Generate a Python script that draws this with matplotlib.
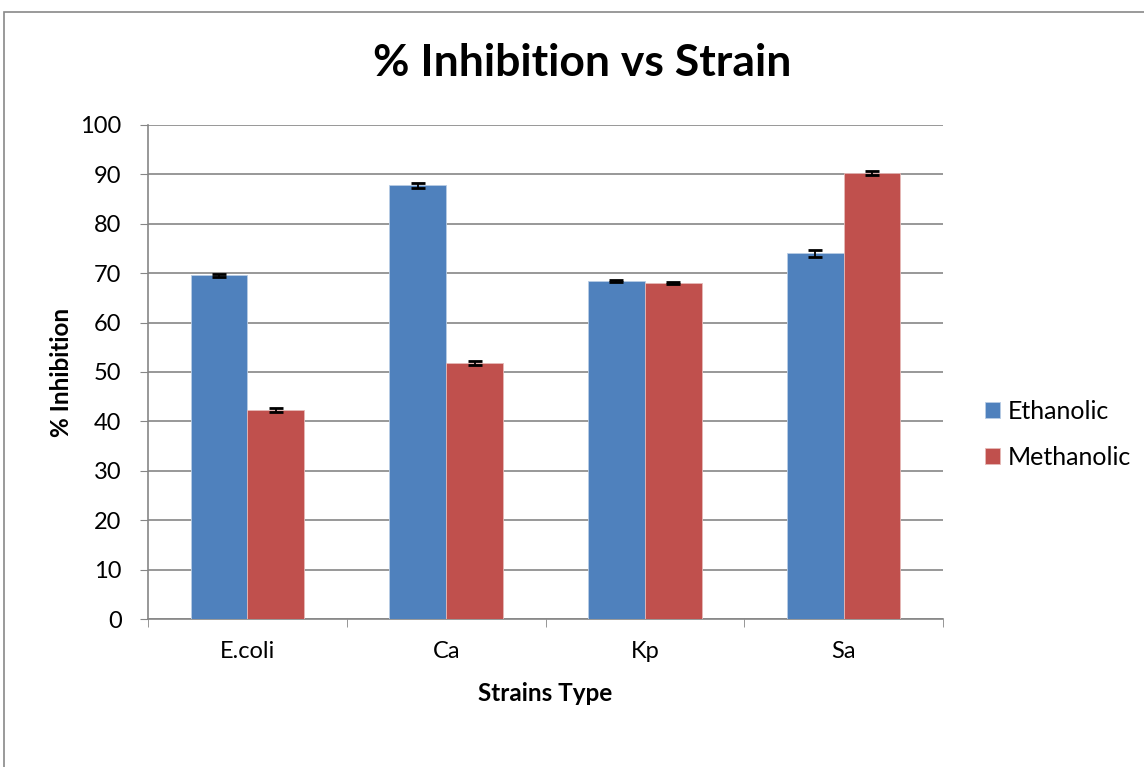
import numpy as np
import matplotlib
matplotlib.use('Agg')
import matplotlib.pyplot as plt
from matplotlib.patches import Rectangle

strains = ['E.coli', 'Ca', 'Kp', 'Sa']
ethanolic = [69.6, 87.8, 68.4, 74.0]
ethanolic_err = [0.3, 0.5, 0.2, 0.7]
methanolic = [42.3, 51.9, 68.1, 90.3]
methanolic_err = [0.4, 0.4, 0.2, 0.4]

plt.rcParams['font.family'] = ['Lato', 'DejaVu Sans']

fig = plt.figure(figsize=(11.44, 7.67), dpi=100)
ax = fig.add_axes([148 / 1144, 1 - 619 / 767, 795 / 1144, 494 / 767])

# outer chart border
fig.patches.append(Rectangle((4 / 1144, -0.01), 1.1, 1 - 12 / 767 + 0.01, transform=fig.transFigure,
                             fill=False, edgecolor='#898989', linewidth=1.2))

x = np.arange(len(strains))
w = 1 / 3.5
err_kw = dict(ecolor='black', capsize=5, elinewidth=1.3, capthick=2)
ax.bar(x - w / 2, ethanolic, w, yerr=ethanolic_err, color='#4f81bd', edgecolor='#b9cde5',
       linewidth=0.6, label='Ethanolic', error_kw=err_kw, zorder=3)
ax.bar(x + w / 2, methanolic, w, yerr=methanolic_err, color='#c0504d', edgecolor='#e6b9b8',
       linewidth=0.6, label='Methanolic', error_kw=err_kw, zorder=3)

ax.set_xlim(-0.5, len(strains) - 0.5)
ax.set_ylim(0, 100)
ax.set_yticks(range(0, 101, 10))
ax.set_xticks(x)
ax.set_xticklabels(strains)
ax.set_xticks(np.arange(-0.5, len(strains), 1), minor=True)
ax.tick_params(axis='x', which='major', length=0, labelsize=17, pad=16)
ax.tick_params(axis='x', which='minor', length=6, color='#868686', direction='out')
ax.tick_params(axis='y', length=6, color='#868686', labelsize=17, pad=13)
ax.grid(axis='y', color='#868686', linewidth=1.2, zorder=0)
ax.set_axisbelow(True)
for s in ['top', 'right']:
    ax.spines[s].set_visible(False)
for s in ['left', 'bottom']:
    ax.spines[s].set_color('#868686')
    ax.spines[s].set_linewidth(1.2)

fig.suptitle('% Inhibition vs Strain', x=582 / 1144, y=1 - 63 / 767, va='center',
             fontsize=32, fontweight='bold')
ax.set_xlabel('Strains Type', fontsize=17.5, fontweight='bold', labelpad=14)
ax.set_ylabel('% Inhibition', fontsize=17.5, fontweight='bold', labelpad=5)

ax.legend(loc='center left', bbox_to_anchor=(1.053, 0.374), frameon=False, fontsize=18,
          borderaxespad=0, borderpad=0,
          handlelength=0.6, handleheight=0.6, handletextpad=0.3, labelspacing=0.92)

fig.savefig('out.png', dpi=100)
